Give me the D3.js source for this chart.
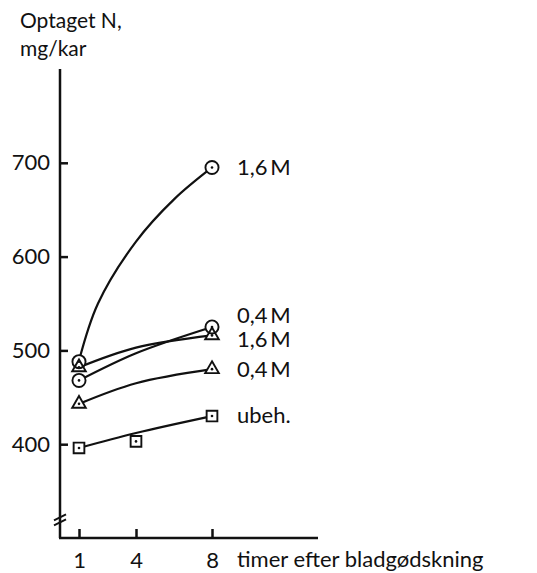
<!DOCTYPE html>
<html>
<head>
<meta charset="utf-8">
<script src="https://cdn.jsdelivr.net/npm/d3@7"></script>
<style>
  body { margin: 0; background: #fff; }
  text { font-family: Lato, "Open Sans", sans-serif; fill: #111; }
</style>
</head>
<body>
<div id="chart"></div>
<script>
// data
const hours = [1, 4, 8];
const hours16 = [1, 2, 4, 6, 8];
const xTicks = [1, 4, 8];
const yTicks = [400, 500, 600, 700];

// measured points (hour, value)
const circle16 = [[1, 488], [8, 695]];
const circle04 = [[1, 468], [8, 525]];
const tri16 = [[1, 482], [8, 516]];
const tri04 = [[1, 443], [8, 480]];
const squareUb = [[1, 396], [4, 403], [8, 430]];

// hand drawn fitted curves
const fitCircle16 = [489, 550, 616, 661, 695]; // at hours16
const fitCircle04 = [468, 497, 525];           // at hours
const fitTri16 = [482, 503, 516];
const fitTri04 = [443, 465, 480];
const fitUb = [396, 412, 430];

const labels = ["1,6\u2009M", "0,4\u2009M", "1,6\u2009M", "0,4\u2009M", "ubeh."];

const width = 537, height = 573;

const svg = d3.select("#chart")
  .append("svg")
  .attr("width", width)
  .attr("height", height);

// scales
const x = d3.scaleLinear().domain([0, 8]).range([60, 212]);
const y = d3.scaleLinear().domain([300, 800]).range([538, 69]);

const series = [
  { pts: circle16, fit: fitCircle16, hrs: hours16, shape: "circle", label: labels[0], dy: 0 },
  { pts: circle04, fit: fitCircle04, hrs: hours, shape: "circle", label: labels[1], dy: -12 },
  { pts: tri16, fit: fitTri16, hrs: hours, shape: "triangle", label: labels[2], dy: 4 },
  { pts: tri04, fit: fitTri04, hrs: hours, shape: "triangle", label: labels[3], dy: 0 },
  { pts: squareUb, fit: fitUb, hrs: hours, shape: "square", label: labels[4], dy: -1 }
];

// axes
svg.append("line")
  .attr("x1", x(0)).attr("x2", x(0))
  .attr("y1", 69).attr("y2", y(300))
  .attr("stroke", "#111").attr("stroke-width", 2.5);

svg.append("line")
  .attr("x1", x(0) - 1).attr("x2", 318)
  .attr("y1", y(300)).attr("y2", y(300))
  .attr("stroke", "#111").attr("stroke-width", 2.5);

const yAxis = svg.append("g")
  .attr("transform", `translate(${x(0)},0)`)
  .call(d3.axisLeft(y).tickValues(yTicks).tickSize(-8).tickPadding(10));
yAxis.select(".domain").remove();
yAxis.selectAll(".tick line").attr("stroke", "#111").attr("stroke-width", 2.5);
yAxis.selectAll(".tick text")
  .style("font-size", "22px")
  .style("font-family", "Lato, sans-serif")
  .attr("fill", "#111");

const xAxis = svg.append("g")
  .attr("transform", `translate(0,${y(300)})`)
  .call(d3.axisBottom(x).tickValues(xTicks).tickSize(-9).tickPadding(14));
xAxis.select(".domain").remove();
xAxis.selectAll(".tick line").attr("stroke", "#111").attr("stroke-width", 2.5);
xAxis.selectAll(".tick text")
  .style("font-size", "22px")
  .style("font-family", "Lato, sans-serif")
  .attr("fill", "#111");

// axis break
[0, 5].forEach(off => {
  svg.append("line")
    .attr("x1", x(0) - 6).attr("y1", y(322) + 3 + off)
    .attr("x2", x(0) + 6).attr("y2", y(322) - 3 + off)
    .attr("stroke", "#111").attr("stroke-width", 2);
});

// curves
series.forEach(s => {
  const line = d3.line()
    .x((d, i) => x(s.hrs[i]))
    .y(d => y(d))
    .curve(d3.curveCatmullRom.alpha(0.5));
  svg.append("path")
    .datum(s.fit)
    .attr("fill", "none")
    .attr("stroke", "#111")
    .attr("stroke-width", 2.2)
    .attr("d", line);
});

// symbols
const symType = { circle: d3.symbolCircle, triangle: d3.symbolTriangle, square: d3.symbolSquare };
const symSize = { circle: 135, triangle: 80, square: 115 };

const sym = s => d3.symbol().type(symType[s.shape]).size(symSize[s.shape]);

// white under-layer so the curves stop at the symbol edge
series.forEach(s => {
  svg.selectAll(null).data(s.pts).enter()
    .append("path")
    .attr("transform", d => `translate(${x(d[0])},${y(d[1])})`)
    .attr("d", sym(s)())
    .attr("fill", "#fff");
});

series.forEach(s => {
  const g = svg.selectAll(null).data(s.pts).enter()
    .append("g")
    .attr("transform", d => `translate(${x(d[0])},${y(d[1])})`);
  g.append("path")
    .attr("d", sym(s)())
    .attr("fill", "none")
    .attr("stroke", "#111")
    .attr("stroke-width", 1.9);
  g.append("circle")
    .attr("r", 1.3)
    .attr("fill", "#111");
});

// series labels at the right end
series.forEach(s => {
  const last = s.pts[s.pts.length - 1];
  svg.append("text")
    .attr("x", x(8) + 25)
    .attr("y", y(last[1]) + s.dy)
    .attr("dy", "0.36em")
    .style("font-size", "22px")
    .text(s.label);
});

// axis titles
svg.append("text")
  .attr("x", 20).attr("y", 28)
  .style("font-size", "21px")
  .text("Optaget N,");
svg.append("text")
  .attr("x", 20).attr("y", 56)
  .style("font-size", "21px")
  .text("mg/kar");

svg.append("text")
  .attr("x", 237).attr("y", 567)
  .style("font-size", "22px")
  .text("timer efter bladgødskning");
</script>
</body>
</html>
